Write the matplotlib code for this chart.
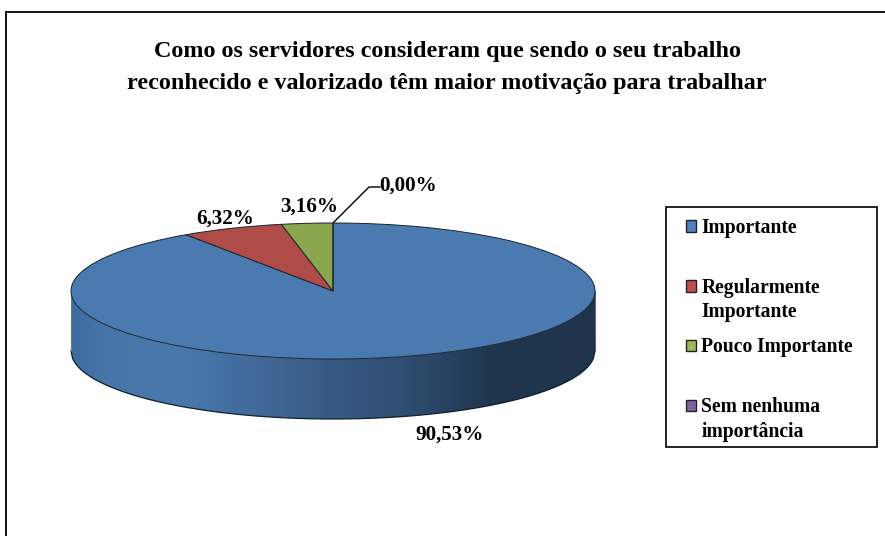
import numpy as np
import matplotlib
matplotlib.use("Agg")
import matplotlib.pyplot as plt
from matplotlib.colors import LinearSegmentedColormap
from matplotlib.patches import Rectangle, Polygon

categories = ["Importante", "Regularmente\nImportante", "Pouco Importante", "Sem nenhuma\nimportância"]
values = [90.53, 6.32, 3.16, 0.0]
title = "Como os servidores consideram que sendo o seu trabalho\nreconhecido e valorizado têm maior motivação para trabalhar"

top_colors = ["#4a7aaf", "#b04c48", "#8ba64f", "#7a5f9a"]
legend_colors = ["#4f81bd", "#c0504d", "#9bbb59", "#8064a2"]
W, H = 885, 536
cx, cy, rx, ry, depth = 333, 291, 262, 68, 60
M = 1.02

plt.rcParams["font.family"] = ["Liberation Serif", "DejaVu Serif"]
plt.rcParams["font.weight"] = "bold"

fig = plt.figure(figsize=(W / 100, H / 100), dpi=100, facecolor="white")
ax = fig.add_axes([0, 0, 1, 1])
ax.set_xlim(0, W)
ax.set_ylim(H, 0)
ax.axis("off")

# outer chart frame
ax.add_patch(Rectangle((5.5, 11.5), W + 20, H + 20, fc="white", ec="#111111", lw=1.4, zorder=0))

# side wall of the disc, shaded left to right
t = np.linspace(-1, 1, 300)
xs = cx + rx * t
up = cy + ry * np.sqrt(1 - t ** 2)
wall = Polygon(np.r_[np.c_[xs, up], np.c_[xs, up + depth][::-1]], closed=True,
               fc="none", ec="none", transform=ax.transData)
ax.add_patch(wall)
cmap = LinearSegmentedColormap.from_list("wall", [
    (0.0, "#3f6c9f"), (0.06, "#4774a9"), (0.2, "#4a79ad"), (0.35, "#42699a"),
    (0.5, "#375a83"), (0.65, "#2e4c70"), (0.8, "#20364f"), (1.0, "#1f334c")])
img = ax.imshow(np.linspace(0, 1, 300)[None, :], cmap=cmap, aspect="auto",
                extent=(cx - rx, cx + rx, cy + ry + depth, cy - ry), zorder=1)
img.set_clip_path(wall)
ax.set_xlim(0, W)
ax.set_ylim(H, 0)
ax.plot(xs, up + depth, color="#10202f", lw=0.9, zorder=2)
ax.plot([cx - rx, cx - rx], [cy, cy + depth], color="#777777", lw=0.6, zorder=2)
ax.plot([cx + rx, cx + rx], [cy, cy + depth], color="#666666", lw=0.8, zorder=2)

# top face
pax = fig.add_axes([(cx - M * rx) / W, 1 - (cy + M * ry) / H, 2 * M * rx / W, 2 * M * ry / H], zorder=3)
pax.patch.set_alpha(0)
wedges, _ = pax.pie(values, colors=top_colors, startangle=90, counterclock=False, radius=1,
                    wedgeprops=dict(edgecolor="#1a2430", linewidth=0.7))
pax.set_aspect("auto")
pax.set_xlim(-M, M)
pax.set_ylim(-M, M)

# data labels
label_xy = [(450, 435), (225, 219), (309, 207), (408, 186)]
for v, (x, y) in zip(values, label_xy):
    ax.text(x, y, f"{v:.2f}%".replace(".", ","), ha="center", va="center",
            fontsize=15.2, fontweight="bold", color="black", zorder=5)
ax.plot([333, 369, 380], [223, 187, 187], color="black", lw=1.0, zorder=5)

# title
ax.text(447, 67.5, title, ha="center", va="center", fontsize=17.4, fontweight="bold",
        linespacing=1.63, color="black", zorder=5)

# legend
ax.add_patch(Rectangle((665.5, 206.5), 211, 240, fc="white", ec="black", lw=1.2, zorder=4))
handles = [Rectangle((0, 0), 1, 1, fc=c, ec="#222222", lw=1) for c in legend_colors]
labels = [c if "\n" in c else c + "\n " for c in categories]
leg = ax.legend(handles, labels, loc="upper left", bbox_to_anchor=(680, 212),
                bbox_transform=ax.transData, frameon=False, borderpad=0.3, borderaxespad=0,
                fontsize=14.1, handlelength=0.53, handleheight=0.53, handletextpad=0.25,
                labelspacing=0.78)
leg.set_zorder(6)
for text in leg.get_texts():
    text.set_fontweight("bold")
    text.set_linespacing(1.3)
for h in leg.get_patches():
    h.set_y(h.get_y() + 10.5)

fig.savefig("out.png", dpi=100)
